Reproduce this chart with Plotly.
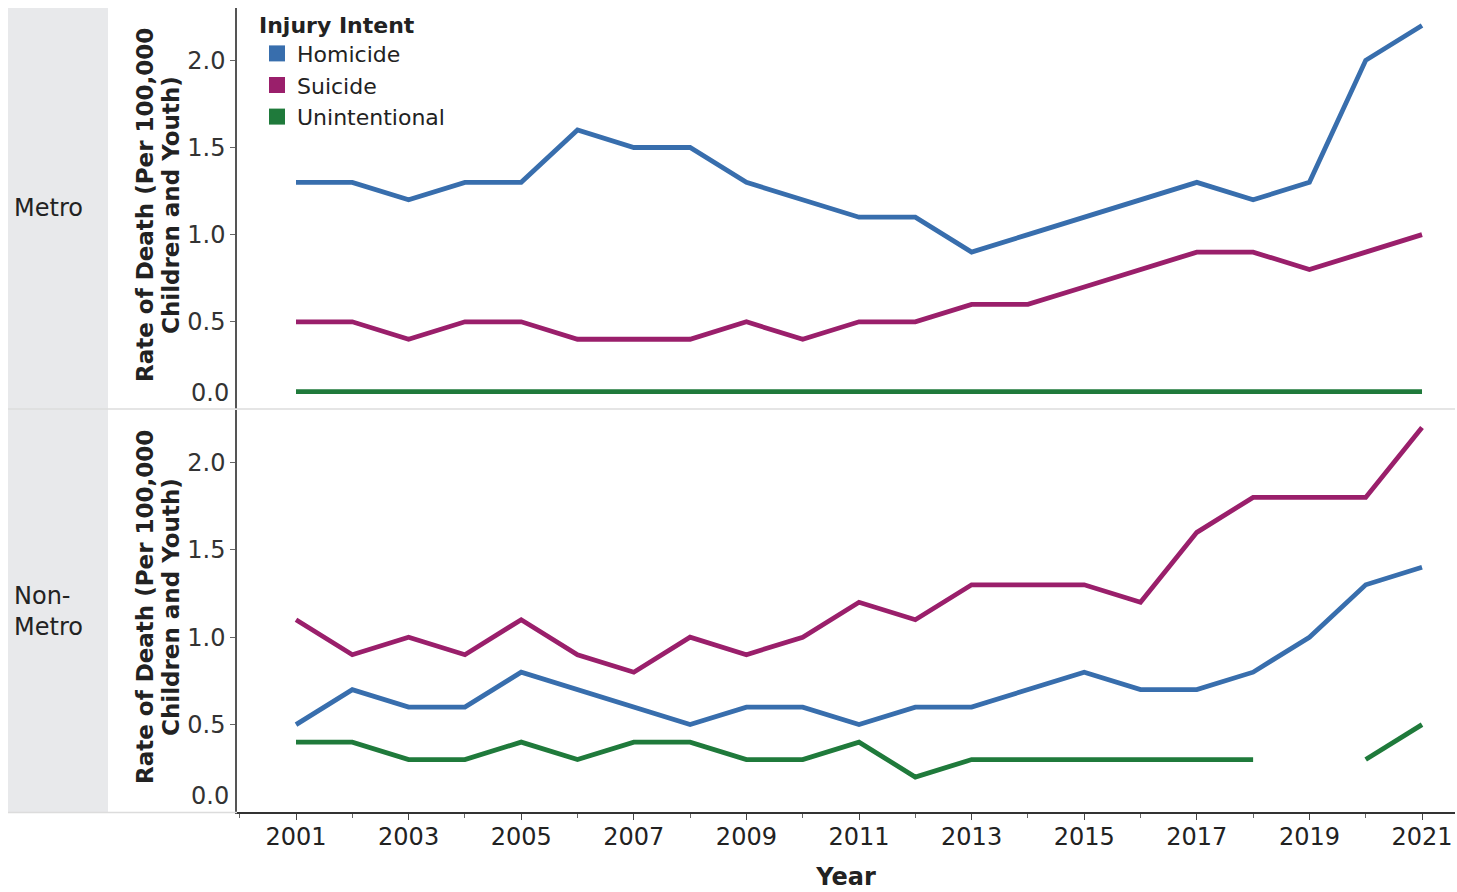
import plotly.graph_objects as go

# ---- data: firearm death rates per 100,000 children and youth ----
years = [2001, 2002, 2003, 2004, 2005, 2006, 2007, 2008, 2009, 2010, 2011,
         2012, 2013, 2014, 2015, 2016, 2017, 2018, 2019, 2020, 2021]

metro_homicide = [1.3, 1.3, 1.2, 1.3, 1.3, 1.6, 1.5, 1.5, 1.3, 1.2, 1.1,
                  1.1, 0.9, 1.0, 1.1, 1.2, 1.3, 1.2, 1.3, 2.0, 2.2]
metro_suicide = [0.5, 0.5, 0.4, 0.5, 0.5, 0.4, 0.4, 0.4, 0.5, 0.4, 0.5,
                 0.5, 0.6, 0.6, 0.7, 0.8, 0.9, 0.9, 0.8, 0.9, 1.0]
metro_unintentional = [0.1, 0.1, 0.1, 0.1, 0.1, 0.1, 0.1, 0.1, 0.1, 0.1, 0.1,
                       0.1, 0.1, 0.1, 0.1, 0.1, 0.1, 0.1, 0.1, 0.1, 0.1]

nonmetro_homicide = [0.5, 0.7, 0.6, 0.6, 0.8, 0.7, 0.6, 0.5, 0.6, 0.6, 0.5,
                     0.6, 0.6, 0.7, 0.8, 0.7, 0.7, 0.8, 1.0, 1.3, 1.4]
nonmetro_suicide = [1.1, 0.9, 1.0, 0.9, 1.1, 0.9, 0.8, 1.0, 0.9, 1.0, 1.2,
                    1.1, 1.3, 1.3, 1.3, 1.2, 1.6, 1.8, 1.8, 1.8, 2.2]
nonmetro_unintentional = [0.4, 0.4, 0.3, 0.3, 0.4, 0.3, 0.4, 0.4, 0.3, 0.3, 0.4,
                          0.2, 0.3, 0.3, 0.3, 0.3, 0.3, 0.3, None, 0.3, 0.5]

intents = ["Homicide", "Suicide", "Unintentional"]
regions = ["Metro", "Non-<br>Metro"]
x_tick_years = [2001, 2003, 2005, 2007, 2009, 2011, 2013, 2015, 2017, 2019, 2021]
y_tick_vals = [0.5, 1.0, 1.5, 2.0]
y_tick_text = ["0.5", "1.0", "1.5", "2.0"]
y_title_lines = ["Rate of Death (Per 100,000", "Children and Youth)"]

# ---- styling ----
W, H = 1457, 892
ML, MR, MT, MB = 237, 2, 8, 80
PW, PH = W - ML - MR, H - MT - MB
FONT = "DejaVu Sans"
colors = {"Homicide": "#386ead", "Suicide": "#9a1f6b", "Unintentional": "#1f7a3b"}
strip_fill = "#e8e9eb"
sep_color = "#dcdcdc"


def px_x(p):
    return (p - ML) / PW


def px_y(p):
    return (H - MB - p) / PH


panel_data = {
    "top": {"Homicide": metro_homicide, "Suicide": metro_suicide,
            "Unintentional": metro_unintentional},
    "bottom": {"Homicide": nonmetro_homicide, "Suicide": nonmetro_suicide,
               "Unintentional": nonmetro_unintentional},
}

fig = go.Figure()

# lines: top panel on (x, y2), bottom panel on (x, y)
for panel, yax in (("top", "y2"), ("bottom", "y")):
    for name in intents:
        fig.add_trace(go.Scatter(
            x=years, y=panel_data[panel][name], mode="lines",
            line=dict(color=colors[name], width=4.8),
            connectgaps=False, showlegend=False, legendgroup=name,
            xaxis="x", yaxis=yax, hoverinfo="x+y+name", name=name,
        ))

# square legend swatches
for name in intents:
    fig.add_trace(go.Scatter(
        x=[None], y=[None], mode="markers", name=name, legendgroup=name,
        marker=dict(symbol="square", size=16, color=colors[name]),
        xaxis="x", yaxis="y2",
    ))

x_range = [1999.952, 2021.586]
y_range = [0, 2.3]
ytick_font = dict(family=FONT, size=24, color="#333333")

common_y = dict(
    range=y_range, tickvals=y_tick_vals, ticktext=y_tick_text,
    ticks="outside", ticklen=5, tickcolor="#666666", tickwidth=1.2,
    tickfont=ytick_font, showgrid=False, zeroline=False,
    showline=True, linecolor="#555555", linewidth=1.5, fixedrange=True,
)

fig.update_layout(
    width=W, height=H,
    margin=dict(l=ML, r=MR, t=MT, b=MB),
    paper_bgcolor="white", plot_bgcolor="white",
    font=dict(family=FONT, color="#222222"),
    xaxis=dict(
        range=x_range, anchor="y", domain=[0, 1],
        tickvals=x_tick_years, ticktext=[str(v) for v in x_tick_years],
        ticks="outside", ticklen=6, tickcolor="#444444",
        ticklabelstandoff=-4,
        minor=dict(dtick=1, tick0=2001, ticks="outside", ticklen=4,
                   tickcolor="#666666"),
        tickfont=dict(family=FONT, size=24, color="#222222"),
        showgrid=False, zeroline=False,
        showline=True, linecolor="#333333", linewidth=2,
        title=dict(text="<b>Year</b>", standoff=18,
                   font=dict(family=FONT, size=24, color="#222222")),
    ),
    yaxis=dict(domain=[0, px_y(410)], anchor="x", **common_y),
    yaxis2=dict(domain=[px_y(409), 1], anchor="x", **common_y),
    legend=dict(
        x=px_x(257), y=1 + 4 / PH, xanchor="left", yanchor="top",
        bgcolor="rgba(0,0,0,0)",
        font=dict(family=FONT, size=22, color="#222222"),
        title=dict(text="<b>Injury Intent</b>",
                   font=dict(family=FONT, size=22, color="#222222")),
        tracegroupgap=0, itemsizing="trace",
    ),
    showlegend=True,
)

shapes = [
    # grey row-label strip
    dict(type="rect", xref="paper", yref="paper",
         x0=px_x(8), x1=px_x(108), y0=px_y(812), y1=px_y(8),
         fillcolor=strip_fill, line=dict(width=0), layer="below"),
    # separator between the two panels
    dict(type="line", xref="paper", yref="paper",
         x0=px_x(8), x1=1.0, y0=px_y(409), y1=px_y(409),
         line=dict(color=sep_color, width=1.5)),
    # line under the strip
    dict(type="line", xref="paper", yref="paper",
         x0=px_x(8), x1=0, y0=px_y(812.5), y1=px_y(812.5),
         line=dict(color=sep_color, width=1.5)),
]
fig.update_layout(shapes=shapes)

annotations = []
# region labels in the strip
for label, yc in zip(regions, (208, 611)):
    annotations.append(dict(
        text=label, xref="paper", yref="paper", x=px_x(12), y=px_y(yc),
        xanchor="left", yanchor="middle", align="left", showarrow=False,
        font=dict(family=FONT, size=24, color="#222222"),
    ))
# two-line rotated y titles for each panel
for yc in (205, 607):
    for line_txt, xc in zip(y_title_lines, (145, 171)):
        annotations.append(dict(
            text="<b>" + line_txt + "</b>", xref="paper", yref="paper",
            x=px_x(xc), y=px_y(yc), xanchor="center", yanchor="middle",
            textangle=-90, showarrow=False,
            font=dict(family=FONT, size=23, color="#222222"),
        ))
# zero labels, nudged up inside each panel
for yref in ("y2", "y"):
    annotations.append(dict(
        text="0.0", xref="paper", yref=yref, x=0, y=0,
        xanchor="right", yanchor="middle", xshift=-6, yshift=16,
        showarrow=False, font=ytick_font,
    ))
fig.update_layout(annotations=annotations)

fig.write_html("out.html", config={"displayModeBar": False})
